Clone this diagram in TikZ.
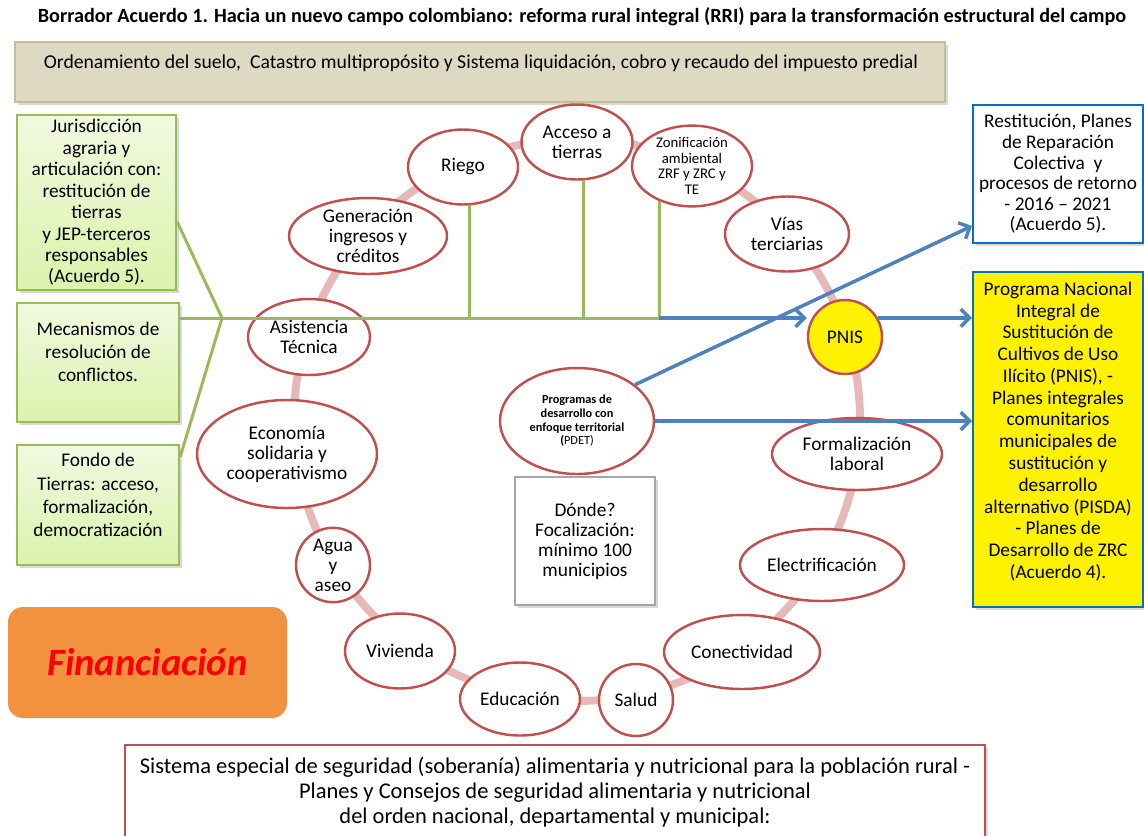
\documentclass[tikz,border=0pt]{standalone}
\usepackage{fontspec}
\setmainfont{Carlito}
\usetikzlibrary{shapes.geometric,arrows.meta,calc,shadows}
\definecolor{ellred}{HTML}{C0504D}
\definecolor{ringpink}{HTML}{E6B9B8}
\definecolor{greenline}{HTML}{9BBB59}
\definecolor{greentop}{HTML}{F1F9E0}
\definecolor{greenbot}{HTML}{DAF3AC}
\definecolor{arrowblue}{HTML}{4F81BD}
\definecolor{boxblue}{HTML}{0070C0}
\definecolor{beigefill}{HTML}{DDD9C3}
\definecolor{beigeline}{HTML}{C4BD97}
\definecolor{orangefill}{HTML}{F2923F}
\definecolor{grayline}{HTML}{A6A6A6}
\newcommand{\px}{0.02cm}
\newcommand{\setsz}[2]{\fontsize{#1}{#2}\selectfont}

\tikzset{
  ell/.style 2 args={ellipse, draw=ellred, line width=1.4pt, fill=white, inner sep=0pt,
    align=center, font=\setsz{11}{11.4}, minimum width=#1*\px, minimum height=#2*\px},
  ring/.style={line width=4.5pt, ringpink},
  shade/.style={drop shadow={shadow xshift=1.5pt, shadow yshift=-1.5pt, opacity=0.3}},
  greenbox/.style 2 args={rectangle, draw=greenline, line width=1.4pt, top color=greentop,
    bottom color=greenbot, shade, minimum width=#1*\px, minimum height=#2*\px},
  bluebox/.style 2 args={rectangle, draw=boxblue, line width=1.1pt, fill=white, shade,
    minimum width=#1*\px, minimum height=#2*\px},
  txt/.style={align=center, inner sep=0pt},
  gline/.style={greenline, line width=1.7pt},
  barrow/.style={arrowblue, line width=2pt, -{Straight Barb[length=5pt, width=10pt]}},
}

\begin{document}
\begin{tikzpicture}[x=0.02cm, y=-0.02cm]
\useasboundingbox (0,0) rectangle (1144,836);
\clip (0,0) rectangle (1144,836);

% titulo
\node[font=\bfseries\setsz{11.5}{13}] (title) at (582,17) {Borrador Acuerdo 1. Hacia un nuevo campo colombiano: reforma rural integral (RRI) para la transformación estructural del campo};

% ordenamiento
\node[rectangle, draw=beigeline, line width=1.2pt, fill=beigefill, shade,
  minimum width=930*\px, minimum height=60*\px] (orden) at (480,72) {};
\node[txt, font=\setsz{11.2}{13}] (ordentxt) at (481,63) {Ordenamiento del suelo,\ \ Catastro multipropósito y Sistema liquidación, cobro y recaudo del impuesto predial};

% anillo
\draw[ring] (577,420) circle [x radius=283, y radius=281];

% elipses del anillo
\node[ell={110}{75}] (riego) at (463,167) {Riego};
\node[ell={111}{75}] (acceso) at (577,142) {Acceso a\\tierras};
\node[ell={120}{73}, font=\setsz{8.4}{8.9}] (zonif) at (692,166) {Zonificación\\ambiental\\ZRF y ZRC y\\TE};
\node[ell={124}{75}] (vias) at (787,234) {Vías\\terciarias};
\node[ell={74}{74}, fill=yellow] (pnis) at (845,337) {PNIS};
\node[ell={170}{72}] (formal) at (857,454) {Formalización\\laboral};
\node[ell={164}{72}] (electr) at (822,565) {Electrificación};
\node[ell={156}{74}] (conect) at (742,652) {Conectividad};
\node[ell={74}{72}] (salud) at (636,700) {Salud};
\node[ell={120}{73}] (educ) at (520,699) {Educación};
\node[ell={110}{75}] (vivienda) at (400,651) {Vivienda};
\node[ell={74}{74}] (agua) at (333,565) {Agua\\y\\aseo};
\node[ell={180}{108}] (econ) at (287,454) {Economía\\solidaria y\\cooperativismo};
\node[ell={122}{76}] (asist) at (309,337) {Asistencia\\Técnica};
\node[ell={158}{76}] (gener) at (368,236) {Generación\\ingresos y\\créditos};

% PDET
\node[ell={154}{106}, font=\setsz{7}{7.8}] (pdet) at (577,421)
  {\textbf{Programas de}\\\textbf{desarrollo con}\\\textbf{enfoque territorial}\\\textbf{(}PDET)};
\node[rectangle, draw=grayline, line width=1.5pt, fill=white, shade, txt, font=\setsz{11}{11.4},
  minimum width=140*\px, minimum height=128*\px] (donde) at (585,541) {Dónde?\\Focalización:\\mínimo 100\\municipios};

% cajas verdes
\node[greenbox={159}{175}, txt, font=\setsz{11}{12.2}] (jur) at (96.5,202.5)
  {Jurisdicción\\agraria y\\articulación con:\\restitución de\\tierras\\y JEP-terceros\\responsables\\(Acuerdo 5).};
\node[greenbox={162}{119}] (mec) at (98,362.5) {};
\node[txt, font=\setsz{11}{13.1}] (mectxt) at (98,352) {Mecanismos de\\resolución de\\conflictos.};
\node[greenbox={162}{120}] (fondo) at (98,505) {};
\node[txt, font=\setsz{11}{13.2}] (fondotxt) at (98,495) {Fondo de\\Tierras: acceso,\\formalización,\\democratización};

% lineas verdes
\coordinate (hub) at (222,318);
\coordinate (tap) at (zonif.227 |- hub);
\draw[gline] ($(jur.north east)+(0,108)$) -- (hub);
\draw[gline] ($(fondo.north east)+(0,13)$) -- (hub);
\draw[gline] (mec.east |- hub) -- (tap);
\draw[gline] (riego.280) -- (riego.280 |- hub);
\draw[gline] (acceso.280) -- (acceso.280 |- hub);
\draw[gline] (zonif.227) -- (tap);

% cajas derecha
\node[bluebox={170}{138}, txt, font=\setsz{11}{11.7}] (rest) at (1058,174)
  {Restitución, Planes\\de Reparación\\Colectiva\ \ y\\procesos de retorno\\- 2016 -- 2021\\(Acuerdo 5).};
\node[bluebox={170}{335}, fill=yellow] (yel) at (1058,439.5) {};
\node[txt, font=\setsz{11}{12.4}] (yeltxt) at (1058,431.5)
  {Programa Nacional\\Integral de\\Sustitución de\\Cultivos de Uso\\Ilícito (PNIS), -\\Planes integrales\\comunitarios\\municipales de\\sustitución y\\desarrollo\\alternativo (PISDA)\\- Planes de\\Desarrollo de ZRC\\(Acuerdo 4).};

% flechas
\draw[barrow] (tap) -- (tap -| pnis.west);
\draw[barrow] (pnis.30) -- (pnis.30 -| yel.west);
\draw[barrow] (pdet.32) -- ($(rest.south west)+(0,-18)$);
\draw[barrow] (pdet.east) -- (pdet.east -| yel.west);

% financiacion
\node[rectangle, rounded corners=8.5pt, fill=orangefill, minimum width=279*\px, minimum height=111*\px,
  font=\bfseries\itshape\setsz{22}{26}, text=red] (finan) at (147.5,662.5) {Financiación};

% sistema alimentario
\node[rectangle, draw=ellred, line width=1.1pt, fill=white, shade,
  minimum width=860*\px, minimum height=154*\px] (alim) at (555,822) {};
\node[txt, font=\setsz{12.8}{14.3}] (alimtxt) at (555,792)
  {Sistema especial de seguridad (soberanía) alimentaria y nutricional para la población rural -\\Planes y Consejos de seguridad alimentaria y nutricional\\del orden nacional, departamental y municipal:};
\end{tikzpicture}
\end{document}
